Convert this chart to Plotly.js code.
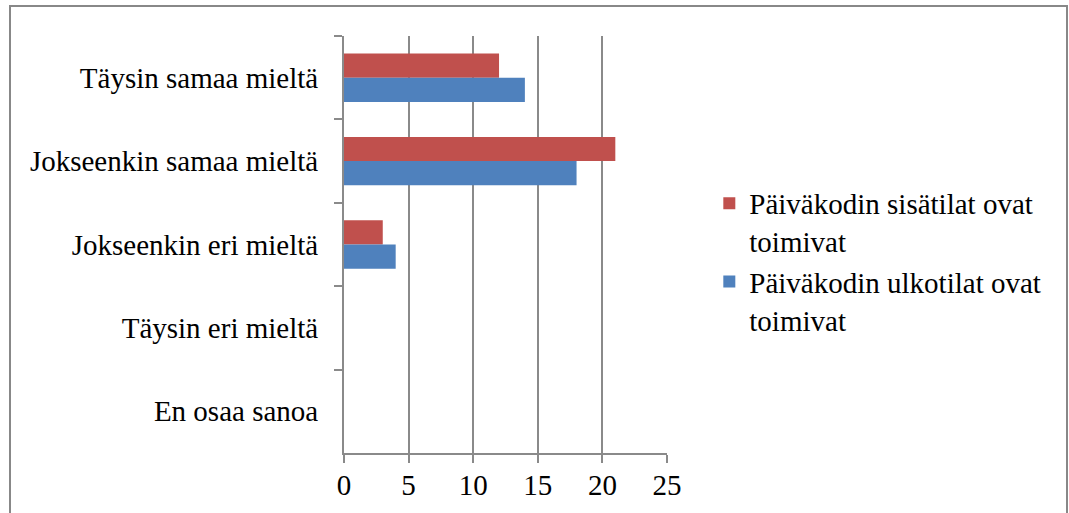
<!DOCTYPE html>
<html>
<head>
<meta charset="utf-8">
<script src="https://cdn.plot.ly/plotly-3.0.1.min.js"></script>
<style>html,body{margin:0;padding:0;background:#fff;}#chart{width:1069px;height:513px;}</style>
</head>
<body>
<div id="chart"></div>
<script>
var categories = ["Täysin samaa mieltä", "Jokseenkin samaa mieltä", "Jokseenkin eri mieltä", "Täysin eri mieltä", "En osaa sanoa"];
var seriesNames = ["Päiväkodin sisätilat ovat<br>toimivat", "Päiväkodin ulkotilat ovat<br>toimivat"];
var sisatilat = [12, 21, 3, 0, 0];
var ulkotilat = [14, 18, 4, 0, 0];
var xTicks = [0, 5, 10, 15, 20, 25];

var axisGrey = "#8a8a8a";
var serif = "Liberation Serif";
var traces = [
  {type: "bar", orientation: "h", name: seriesNames[0], y: categories, x: sisatilat,
   marker: {color: "#C0504D", line: {width: 0}}, hoverinfo: "none"},
  {type: "bar", orientation: "h", name: seriesNames[1], y: categories, x: ulkotilat,
   marker: {color: "#4F81BD", line: {width: 0}}, hoverinfo: "none"}
];

var layout = {
  width: 1069, height: 513,
  margin: {l: 344, r: 402, t: 36, b: 60, pad: 0},
  paper_bgcolor: "#fff", plot_bgcolor: "#fff",
  font: {family: serif, size: 29, color: "#000"},
  barmode: "group", bargap: 0.42, bargroupgap: 0,
  showlegend: true,
  legend: {x: 1.131, y: 0.66, xanchor: "left", yanchor: "top", valign: "top",
           font: {family: serif, size: 29, color: "#000"}, bgcolor: "rgba(0,0,0,0)", borderwidth: 0},
  xaxis: {range: [0, 25], tickvals: xTicks, ticktext: xTicks.map(String),
          tickfont: {family: serif, size: 29, color: "#000"},
          showgrid: true, gridcolor: axisGrey, gridwidth: 2,
          showline: true, linecolor: axisGrey, linewidth: 2,
          ticks: "outside", ticklen: 8, tickwidth: 2, tickcolor: axisGrey,
          ticklabelstandoff: -3, zeroline: false, fixedrange: true},
  yaxis: {type: "category", autorange: "reversed", tickson: "boundaries",
          tickfont: {family: serif, size: 29, color: "#000"},
          showline: true, linecolor: axisGrey, linewidth: 2,
          ticks: "outside", ticklen: 8, tickwidth: 2, tickcolor: axisGrey,
          showgrid: false, ticklabelstandoff: 18, fixedrange: true},
  shapes: [{type: "rect", xref: "paper", yref: "paper",
            x0: (10 - 344) / 323, x1: (1067 - 344) / 323,
            y0: (453 - 530) / 417, y1: (453 - 6) / 417,
            line: {color: "#888", width: 2}, fillcolor: "rgba(0,0,0,0)", layer: "above"}]
};

Plotly.newPlot("chart", traces, layout, {staticPlot: true, displayModeBar: false});
</script>
</body>
</html>
